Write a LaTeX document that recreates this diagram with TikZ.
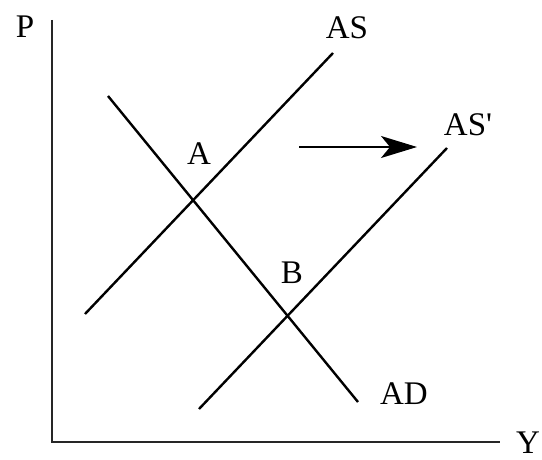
\documentclass[tikz,border=0pt]{standalone}
\usepackage{fontspec}
\setmainfont{Liberation Serif}[Ligatures=NoCommon]
\usetikzlibrary{arrows.meta}
\begin{document}
\begin{tikzpicture}[x=1pt,y=-1pt,
  curve/.style={line width=2.4pt,black},
  axis/.style={line width=2pt,black!85},
  lbl/.style={font=\fontsize{33}{33}\selectfont,inner sep=0pt}]
\useasboundingbox (0,0) rectangle (542,460);
% axes
\coordinate (top) at (52,20);
\coordinate (origin) at (52,442);
\coordinate (right) at (500,442);
\draw[axis] (top) -- (origin) -- (right);
\node[lbl] (P) at (25,27) {P};
\node[lbl] (Y) at (528,443) {Y};
% curves
\coordinate (as1) at (85,314);
\coordinate (as2) at (333,53);
\coordinate (asp1) at (199,409);
\coordinate (asp2) at (447,148);
\coordinate (ad1) at (108,96);
\coordinate (ad2) at (358,402);
\draw[curve] (as1) -- (as2);
\draw[curve] (asp1) -- (asp2);
\draw[curve] (ad1) -- (ad2);
\node[lbl] (AS) at (347,28) {AS};
\node[lbl] (ASp) at (468,125) {AS\textquotesingle};
\node[lbl] (AD) at (404,394) {AD};
\node[lbl] (A) at (199,154) {A};
\node[lbl] (B) at (292,273) {B};
% shift arrow
\coordinate (ar1) at (299,147);
\coordinate (ar2) at (417,147);
\draw[line width=1.6pt,-{Stealth[length=36pt,width=22pt,inset=9pt]}] (ar1) -- (ar2);
\end{tikzpicture}
\end{document}
